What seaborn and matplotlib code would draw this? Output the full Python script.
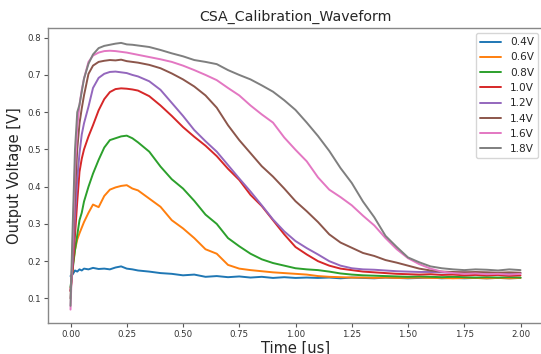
import numpy as np
import pandas as pd
import matplotlib
matplotlib.use("Agg")
import matplotlib.pyplot as plt
import seaborn as sns

time_us = [0.0, 0.01, 0.02, 0.03, 0.04, 0.05, 0.06, 0.08, 0.10, 0.125, 0.15, 0.175,
           0.20, 0.225, 0.25, 0.275, 0.30, 0.35, 0.40, 0.45, 0.50, 0.55, 0.60, 0.65,
           0.70, 0.75, 0.80, 0.85, 0.90, 0.95, 1.00, 1.05, 1.10, 1.15, 1.20, 1.25,
           1.30, 1.35, 1.40, 1.45, 1.50, 1.55, 1.60, 1.65, 1.70, 1.75, 1.80, 1.85,
           1.90, 1.95, 2.00]

labels = ["0.4V", "0.6V", "0.8V", "1.0V", "1.2V", "1.4V", "1.6V", "1.8V"]

v_04 = [0.160, 0.165, 0.175, 0.172, 0.178, 0.175, 0.180, 0.178, 0.182, 0.179, 0.180, 0.178,
        0.183, 0.186, 0.180, 0.178, 0.175, 0.172, 0.168, 0.166, 0.162, 0.164, 0.158, 0.160,
        0.157, 0.159, 0.156, 0.158, 0.155, 0.157, 0.155, 0.156, 0.155, 0.156, 0.154, 0.156,
        0.155, 0.154, 0.156, 0.155, 0.154, 0.155, 0.156, 0.154, 0.155, 0.154, 0.155, 0.154,
        0.155, 0.154, 0.155]
v_06 = [0.120, 0.190, 0.230, 0.258, 0.275, 0.290, 0.305, 0.330, 0.352, 0.345, 0.375, 0.392,
        0.398, 0.402, 0.404, 0.395, 0.390, 0.368, 0.346, 0.310, 0.288, 0.262, 0.232, 0.220,
        0.190, 0.180, 0.176, 0.173, 0.170, 0.168, 0.166, 0.164, 0.160, 0.158, 0.157, 0.156,
        0.156, 0.155, 0.156, 0.155, 0.155, 0.156, 0.155, 0.155, 0.154, 0.155, 0.155, 0.154,
        0.155, 0.154, 0.155]
v_08 = [0.130, 0.180, 0.230, 0.270, 0.310, 0.330, 0.360, 0.400, 0.435, 0.472, 0.505, 0.525,
        0.530, 0.535, 0.537, 0.530, 0.519, 0.494, 0.454, 0.420, 0.395, 0.362, 0.325, 0.300,
        0.262, 0.240, 0.220, 0.205, 0.195, 0.188, 0.181, 0.178, 0.176, 0.172, 0.167, 0.164,
        0.162, 0.161, 0.160, 0.159, 0.158, 0.159, 0.158, 0.157, 0.158, 0.157, 0.156, 0.157,
        0.156, 0.157, 0.156]
v_10 = [0.120, 0.180, 0.270, 0.360, 0.440, 0.475, 0.500, 0.535, 0.565, 0.605, 0.635, 0.654,
        0.662, 0.664, 0.663, 0.661, 0.658, 0.643, 0.618, 0.590, 0.560, 0.534, 0.510, 0.482,
        0.448, 0.418, 0.378, 0.348, 0.310, 0.272, 0.238, 0.218, 0.200, 0.188, 0.180, 0.176,
        0.172, 0.170, 0.168, 0.166, 0.165, 0.164, 0.165, 0.163, 0.164, 0.162, 0.163, 0.162,
        0.163, 0.161, 0.162]
v_12 = [0.120, 0.200, 0.320, 0.420, 0.490, 0.540, 0.570, 0.615, 0.665, 0.692, 0.703, 0.708,
        0.709, 0.707, 0.705, 0.700, 0.696, 0.683, 0.660, 0.625, 0.590, 0.552, 0.522, 0.494,
        0.458, 0.422, 0.387, 0.350, 0.312, 0.280, 0.254, 0.235, 0.218, 0.200, 0.188, 0.181,
        0.178, 0.177, 0.175, 0.173, 0.172, 0.171, 0.171, 0.170, 0.169, 0.170, 0.168, 0.169,
        0.168, 0.167, 0.168]
v_14 = [0.100, 0.220, 0.380, 0.500, 0.570, 0.610, 0.645, 0.703, 0.725, 0.735, 0.738, 0.740,
        0.739, 0.741, 0.737, 0.735, 0.733, 0.727, 0.718, 0.704, 0.688, 0.669, 0.645, 0.612,
        0.565, 0.525, 0.490, 0.455, 0.427, 0.395, 0.361, 0.334, 0.305, 0.272, 0.250, 0.236,
        0.222, 0.214, 0.203, 0.196, 0.188, 0.180, 0.175, 0.172, 0.171, 0.170, 0.171, 0.170,
        0.169, 0.170, 0.169]
v_16 = [0.070, 0.250, 0.450, 0.560, 0.620, 0.660, 0.690, 0.735, 0.752, 0.760, 0.764, 0.765,
        0.764, 0.762, 0.760, 0.757, 0.754, 0.748, 0.742, 0.735, 0.725, 0.713, 0.700, 0.686,
        0.665, 0.645, 0.618, 0.594, 0.572, 0.532, 0.499, 0.468, 0.425, 0.392, 0.372, 0.350,
        0.322, 0.296, 0.262, 0.232, 0.208, 0.192, 0.180, 0.172, 0.168, 0.166, 0.167, 0.165,
        0.166, 0.164, 0.166]
v_18 = [0.080, 0.300, 0.500, 0.600, 0.620, 0.655, 0.690, 0.730, 0.755, 0.772, 0.778, 0.781,
        0.784, 0.786, 0.782, 0.781, 0.779, 0.775, 0.767, 0.758, 0.750, 0.740, 0.735, 0.729,
        0.713, 0.700, 0.688, 0.672, 0.655, 0.632, 0.606, 0.572, 0.536, 0.496, 0.450, 0.410,
        0.360, 0.318, 0.268, 0.238, 0.210, 0.197, 0.186, 0.181, 0.178, 0.176, 0.178, 0.177,
        0.175, 0.178, 0.176]

series = [v_04, v_06, v_08, v_10, v_12, v_14, v_16, v_18]

df = pd.concat(
    [pd.DataFrame({"Time [us]": time_us, "Output Voltage [V]": vals, "Amplitude": lab})
     for lab, vals in zip(labels, series)],
    ignore_index=True,
)

sns.set_style("white")
plt.rcParams["font.family"] = ["DejaVu Sans"]

fig = plt.figure(figsize=(5.41, 3.54), dpi=100)
ax = fig.add_axes([48 / 541, 31 / 354, (543 - 48) / 541, (323 - 28) / 354])

sns.lineplot(data=df, x="Time [us]", y="Output Voltage [V]", hue="Amplitude",
             hue_order=labels, palette="tab10", linewidth=1.4, ax=ax,
             estimator=None, sort=False)

ax.set_xlim(-0.1, 2.1)
ax.set_ylim(0.034, 0.826)
ax.set_xticks([0.0, 0.25, 0.5, 0.75, 1.0, 1.25, 1.5, 1.75, 2.0])
ax.set_xticklabels(["0.00", "0.25", "0.50", "0.75", "1.00", "1.25", "1.50", "1.75", "2.00"])
ax.set_yticks([0.1, 0.2, 0.3, 0.4, 0.5, 0.6, 0.7, 0.8])
ax.tick_params(axis="both", which="major", labelsize=6.2, length=3, width=0.8,
               color="#555555", labelcolor="#333333", bottom=True, left=True, pad=2)
for s in ax.spines.values():
    s.set_color("#888888")
    s.set_linewidth(1.0)

ax.set_title("CSA_Calibration_Waveform", fontsize=10.2, pad=5)
ax.set_xlabel("Time [us]", fontsize=10.5, labelpad=1)
ax.set_ylabel("Output Voltage [V]", fontsize=10.5, labelpad=4)

leg = ax.legend(loc="upper right", fontsize=7.6, frameon=True, fancybox=True,
                borderaxespad=0.0, bbox_to_anchor=(538 / 541, 1 - 33 / 354),
                bbox_transform=fig.transFigure)
leg.get_frame().set_edgecolor("#cccccc")

fig.savefig("out.png", dpi=100)
